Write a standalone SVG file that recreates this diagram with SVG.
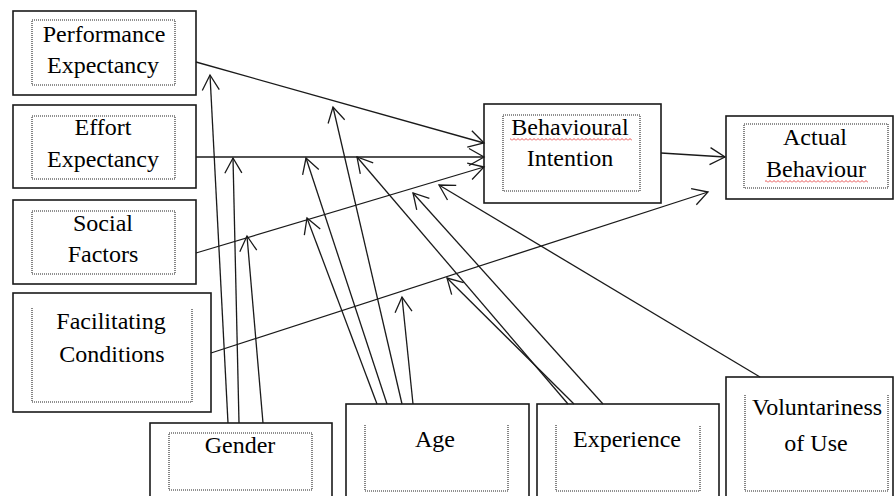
<svg xmlns="http://www.w3.org/2000/svg" width="894" height="496" viewBox="0 0 894 496" font-family="'Liberation Serif', 'DejaVu Serif', serif">
<style>
.box{fill:#fff;stroke:#1a1a1a;stroke-width:1.6}
.dot{fill:none;stroke:#222;stroke-width:1.1;stroke-dasharray:1 1}
.lbl{font-family:'Liberation Serif','DejaVu Serif',serif;font-size:24px;fill:#000;text-anchor:middle}
.con{fill:none;stroke:#1a1a1a;stroke-width:1.3;marker-end:url(#arr)}
</style>
<defs>
<marker id="arr" markerUnits="userSpaceOnUse" orient="auto" viewBox="-17 -10 19 20" refX="0" refY="0" markerWidth="19" markerHeight="20">
<path d="M-15,-8.5 L0,0 L-15,8.5" fill="none" stroke="#1a1a1a" stroke-width="1.3"/>
</marker>
<pattern id="squig" width="4" height="3" patternUnits="userSpaceOnUse">
<path d="M0,2.5 L2,0.5 L4,2.5" fill="none" stroke="#e02020" stroke-width="0.8"/>
</pattern>
</defs>
<rect width="894" height="496" fill="#fff"/>

<g id="pe">
<rect class="box" x="13" y="11" width="183" height="84"/>
<rect class="dot" x="32" y="20" width="143" height="65"/>
<text class="lbl" x="104" y="42">Performance</text>
<text class="lbl" x="103" y="73">Expectancy</text>
</g>
<g id="ee">
<rect class="box" x="13" y="105" width="183" height="83"/>
<rect class="dot" x="32" y="116" width="143" height="63"/>
<text class="lbl" x="103" y="135">Effort</text>
<text class="lbl" x="103" y="167">Expectancy</text>
</g>
<g id="sf">
<rect class="box" x="13" y="200" width="183" height="84"/>
<rect class="dot" x="32" y="211" width="143" height="63"/>
<text class="lbl" x="103" y="231">Social</text>
<text class="lbl" x="103" y="262">Factors</text>
</g>
<g id="fc">
<rect class="box" x="13" y="293" width="198" height="119"/>
<path class="dot" d="M32,308 V402 H192 V308"/>
<text class="lbl" x="111" y="329">Facilitating</text>
<text class="lbl" x="112" y="362">Conditions</text>
</g>
<g id="bi">
<rect class="box" x="484" y="104" width="177" height="99"/>
<rect class="dot" x="503" y="115" width="137" height="76"/>
<text class="lbl" x="570" y="135">Behavioural</text>
<rect x="510" y="138" width="122" height="3" fill="url(#squig)"/>
<text class="lbl" x="570" y="166">Intention</text>
</g>
<g id="ab">
<rect class="box" x="726" y="116" width="167" height="83"/>
<rect class="dot" x="744" y="124" width="144" height="64"/>
<text class="lbl" x="815" y="145">Actual</text>
<text class="lbl" x="816" y="177">Behaviour</text>
<rect x="765" y="180" width="103" height="3" fill="url(#squig)"/>
</g>
<g id="gender">
<rect class="box" x="150" y="423" width="182" height="90"/>
<rect class="dot" x="169" y="433" width="143" height="57"/>
<text class="lbl" x="240" y="453">Gender</text>
</g>
<g id="age">
<rect class="box" x="346" y="404" width="183" height="110"/>
<path class="dot" d="M365,425 V491 H508 V425"/>
<text class="lbl" x="435" y="447">Age</text>
</g>
<g id="exp">
<rect class="box" x="537" y="404" width="182" height="110"/>
<path class="dot" d="M556,425 V491 H700 V425"/>
<text class="lbl" x="627" y="447">Experience</text>
</g>
<g id="vol">
<rect class="box" x="726" y="377" width="167" height="140"/>
<path class="dot" d="M745,395 V491 H888 V395"/>
<text class="lbl" x="817" y="415">Voluntariness</text>
<text class="lbl" x="816" y="451">of Use</text>
</g>

<g id="connectors">
<line class="con" x1="196" y1="62" x2="484" y2="143"/>
<line class="con" x1="196" y1="157" x2="484" y2="157"/>
<line class="con" x1="196" y1="253" x2="484" y2="167"/>
<line class="con" x1="661" y1="153" x2="725" y2="157"/>
<line class="con" x1="211" y1="353" x2="708" y2="192"/>
<line class="con" x1="228" y1="423" x2="210" y2="75"/>
<line class="con" x1="239" y1="423" x2="233" y2="158"/>
<line class="con" x1="263" y1="423" x2="247" y2="236"/>
<line class="con" x1="377" y1="404" x2="307" y2="218"/>
<line class="con" x1="387" y1="404" x2="306" y2="158"/>
<line class="con" x1="402" y1="404" x2="333" y2="107"/>
<line class="con" x1="413" y1="404" x2="402" y2="297"/>
<line class="con" x1="568" y1="404" x2="357" y2="157"/>
<line class="con" x1="574" y1="404" x2="447" y2="278"/>
<line class="con" x1="603" y1="404" x2="413" y2="193"/>
<line class="con" x1="760" y1="377" x2="439" y2="185"/>
</g>
</svg>
